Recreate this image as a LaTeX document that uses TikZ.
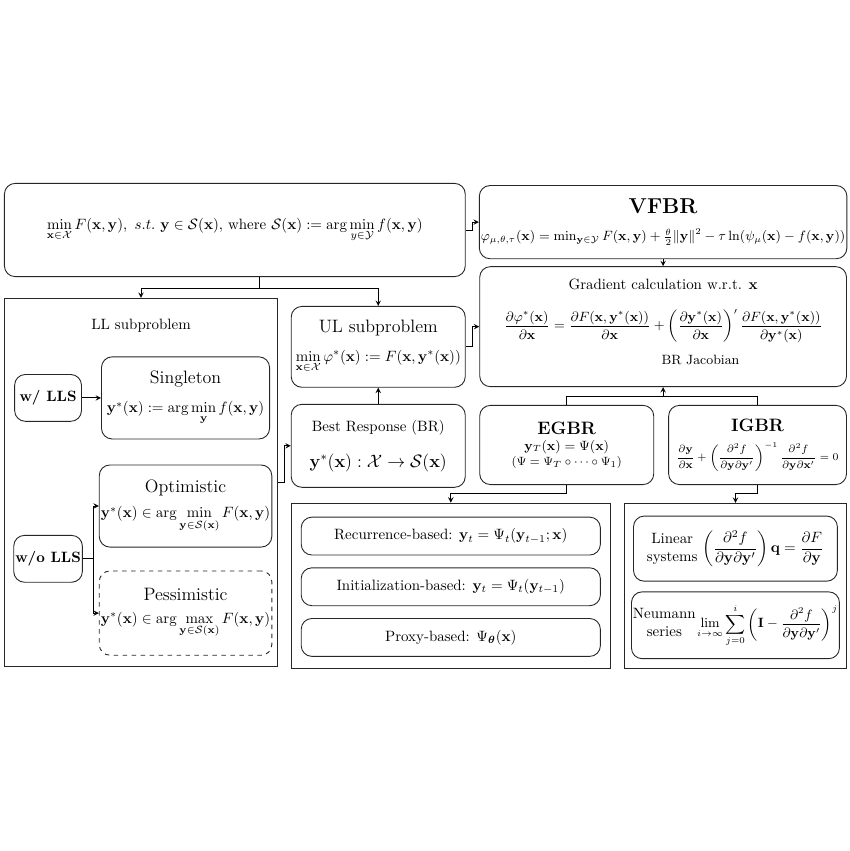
\documentclass[tikz,border=0pt]{standalone}
\usepackage{amsmath,amssymb,amsfonts}
\usepackage{xcolor}
\usepackage{tikz}
\usetikzlibrary{shapes.geometric, arrows, positioning, calc}

\begin{document}
\begin{tikzpicture}[node distance=0.4cm, font=\normalsize]
    \tikzstyle{rbox} = [rectangle, rounded corners=0.25cm, draw=black!85, semithick, align=center, inner sep=1pt]
    \tikzstyle{container} = [rectangle, draw=black!85, semithick]
    \tikzstyle{arrow} = [semithick,->,>=stealth]

    \node (prob) [rbox, minimum width=10.83cm, minimum height=2.19cm] {$\min\limits_{\mathbf{x}\in\mathcal{X}} F(\mathbf{x},\mathbf{y}),\ s.t.\ \mathbf{y}\in\mathcal{S}(\mathbf{x})$, where $\mathcal{S}(\mathbf{x}) := \arg\min\limits_{y\in\mathcal{Y}} f(\mathbf{x},\mathbf{y})$};
    \node (vfbr) [rbox, minimum width=8.62cm, minimum height=1.72cm, right=0.31cm of prob.north east, anchor=north west, yshift=-0.05cm] {\textbf{\Large VFBR}\\[6pt] {\small $\varphi_{\mu,\theta,\tau}(\mathbf{x}) = \min_{\mathbf{y}\in\mathcal{Y}} F(\mathbf{x},\mathbf{y}) + \frac{\theta}{2}\|\mathbf{y}\|^2 - \tau\ln(\psi_\mu(\mathbf{x}) - f(\mathbf{x},\mathbf{y}))$}};
    \node (grad) [rbox, minimum width=8.62cm, minimum height=2.82cm, below=0.165cm of vfbr] {Gradient calculation w.r.t. $\mathbf{x}$\\[12pt] {\small $\dfrac{\partial\varphi^*(\mathbf{x})}{\partial\mathbf{x}} = \dfrac{\partial F(\mathbf{x},\mathbf{y}^*(\mathbf{x}))}{\partial\mathbf{x}} + \left(\dfrac{\partial\mathbf{y}^*(\mathbf{x})}{\partial\mathbf{x}}\right)^{\prime} \dfrac{\partial F(\mathbf{x},\mathbf{y}^*(\mathbf{x}))}{\partial\mathbf{y}^*(\mathbf{x})}$}\\[7pt] \hspace*{50pt}{\small BR Jacobian}\\[-5pt] \mbox{}};

    \node (ll) [container, minimum width=6.42cm, minimum height=8.65cm, below=0.49cm of prob.south west, anchor=north west] {};
    \node (lltitle) [below=0.38cm of ll.north] {LL subproblem};
    \node (wlls) [rbox, minimum width=1.57cm, minimum height=1.10cm, below right=1.79cm and 0.24cm of ll.north west] {\textbf{w/ LLS}};
    \node (single) [rbox, minimum width=3.95cm, minimum height=1.93cm, right=0.45cm of wlls] {{\large Singleton}\\[8pt] $\mathbf{y}^*(\mathbf{x}) := \arg\min\limits_{\mathbf{y}} f(\mathbf{x},\mathbf{y})$};
    \node (optim) [rbox, minimum width=3.95cm, minimum height=1.93cm, below=0.59cm of single] {{\large Optimistic}\\[5pt] {\fontsize{9.7}{11.5}\selectfont $\mathbf{y}^*(\mathbf{x}) \in \arg\min\limits_{\mathbf{y}\in\mathcal{S}(\mathbf{x})} F(\mathbf{x},\mathbf{y})$}};
    \node (pessim) [rbox, dashed, minimum width=3.95cm, minimum height=1.98cm, below=0.54cm of optim] {{\large Pessimistic}\\[3pt] {\fontsize{9.7}{11.5}\selectfont $\mathbf{y}^*(\mathbf{x}) \in \arg\max\limits_{\mathbf{y}\in\mathcal{S}(\mathbf{x})} F(\mathbf{x},\mathbf{y})$}};
    \node (wolls) [rbox, minimum width=1.57cm, minimum height=1.10cm, below=2.66cm of wlls] {\textbf{w/o LLS}};

    \node (ul) [rbox, minimum width=4.09cm, minimum height=1.90cm, below=0.68cm of prob.south east, anchor=north east] {{\large UL subproblem}\\[7pt] $\min\limits_{\mathbf{x}\in\mathcal{X}}\varphi^*(\mathbf{x}) := F(\mathbf{x},\mathbf{y}^*(\mathbf{x}))$};
    \node (br) [rbox, minimum width=4.09cm, minimum height=1.95cm, below=0.38cm of ul] {Best Response (BR)\\[12pt] {\large $\mathbf{y}^*(\mathbf{x}) : \mathcal{X}\rightarrow\mathcal{S}(\mathbf{x})$}};
    \node (egbr) [rbox, minimum width=4.09cm, minimum height=1.86cm, below=0.42cm of grad.south west, anchor=north west] {\textbf{\large EGBR}\\[-1pt] {\small $\mathbf{y}_T(\mathbf{x}) = \Psi(\mathbf{x})$}\\[-2pt] {\footnotesize $(\Psi = \Psi_T\circ\cdots\circ\Psi_1)$}};
    \node (igbr) [rbox, minimum width=4.18cm, minimum height=1.86cm, below=0.42cm of grad.south east, anchor=north east] {\textbf{\large IGBR}\\[6pt] {\fontsize{7.4}{9}\selectfont $\dfrac{\partial\mathbf{y}}{\partial\mathbf{x}} + \left(\dfrac{\partial^2 f}{\partial\mathbf{y}\partial\mathbf{y}'}\right)^{-1} \dfrac{\partial^2 f}{\partial\mathbf{y}\partial\mathbf{x}'} = 0$}};

    \node (egcont) [container, minimum width=7.50cm, minimum height=3.88cm, below=0.35cm of br.south west, anchor=north west] {};
    \node (rec) [rbox, minimum width=7.03cm, minimum height=0.89cm, below=0.33cm of egcont.north] {Recurrence-based: $\mathbf{y}_t = \Psi_t(\mathbf{y}_{t-1};\mathbf{x})$};
    \node (init) [rbox, minimum width=7.03cm, minimum height=0.89cm, below=0.28cm of rec] {Initialization-based: $\mathbf{y}_t = \Psi_t(\mathbf{y}_{t-1})$};
    \node (proxy) [rbox, minimum width=7.03cm, minimum height=0.89cm, below=0.28cm of init] {Proxy-based: $\Psi_{\boldsymbol{\theta}}(\mathbf{x})$};

    \node (igcont) [container, minimum width=5.22cm, minimum height=3.88cm, below=0.42cm of igbr.south east, anchor=north east] {};
    \node (linsys) [rbox, minimum width=4.79cm, minimum height=1.53cm, below=0.30cm of igcont.north] {\begin{tabular}{@{}c@{}}Linear\\ systems\end{tabular}\ $\left(\dfrac{\partial^2 f}{\partial\mathbf{y}\partial\mathbf{y}'}\right)\mathbf{q} = \dfrac{\partial F}{\partial\mathbf{y}}$};
    \node (neumann) [rbox, minimum width=4.79cm, minimum height=1.57cm, below=0.23cm of linsys] {\begin{tabular}{@{}c@{}}Neumann\\ series\end{tabular}\hspace{1pt}{\small $\displaystyle\lim_{i\to\infty}\sum_{j=0}^{i}\left(\mathbf{I} - \dfrac{\partial^2 f}{\partial\mathbf{y}\partial\mathbf{y}'}\right)^{j}$}};

    \draw [arrow] (prob.east) -- ++(0.16,0) |- (vfbr.west);
    \draw [arrow] (vfbr.south) -- (grad.north);
    \coordinate (fork) at ($(ll.north)!0.5!(ul.north)$);
    \draw (prob.south -| fork) -- ++(0,-0.26) coordinate (split);
    \draw [arrow] (split) -| (ll.north);
    \draw [arrow] (split) -| (ul.north);
    \draw [arrow] (ul.east) -- ++(0.16,0) |- (grad.west);
    \draw [arrow] (br.north) -- (ul.south);
    \draw [arrow] (ll.east) -- ++(0.14,0) |- (br.west);
    \draw [arrow] (wlls) -- (single);
    \draw [arrow] (wolls.east) -- ++(0.26,0) |- (optim.west);
    \draw [arrow] (wolls.east) -- ++(0.26,0) |- (pessim.west);
    \coordinate (join) at ($(grad.south)+(0,-0.22)$);
    \draw (egbr.north) |- (join) -| (igbr.north);
    \draw [arrow] (join) -- (grad.south);
    \draw [arrow] (egbr.south) -- ++(0,-0.19) -| (egcont.north);
    \draw [arrow] (igbr.south) -- ++(0,-0.19) -| (igcont.north);

    \useasboundingbox ($(prob.north west)+(-0.094,4.30)$) rectangle ++(19.975,-20.0);
\end{tikzpicture}
\end{document}
